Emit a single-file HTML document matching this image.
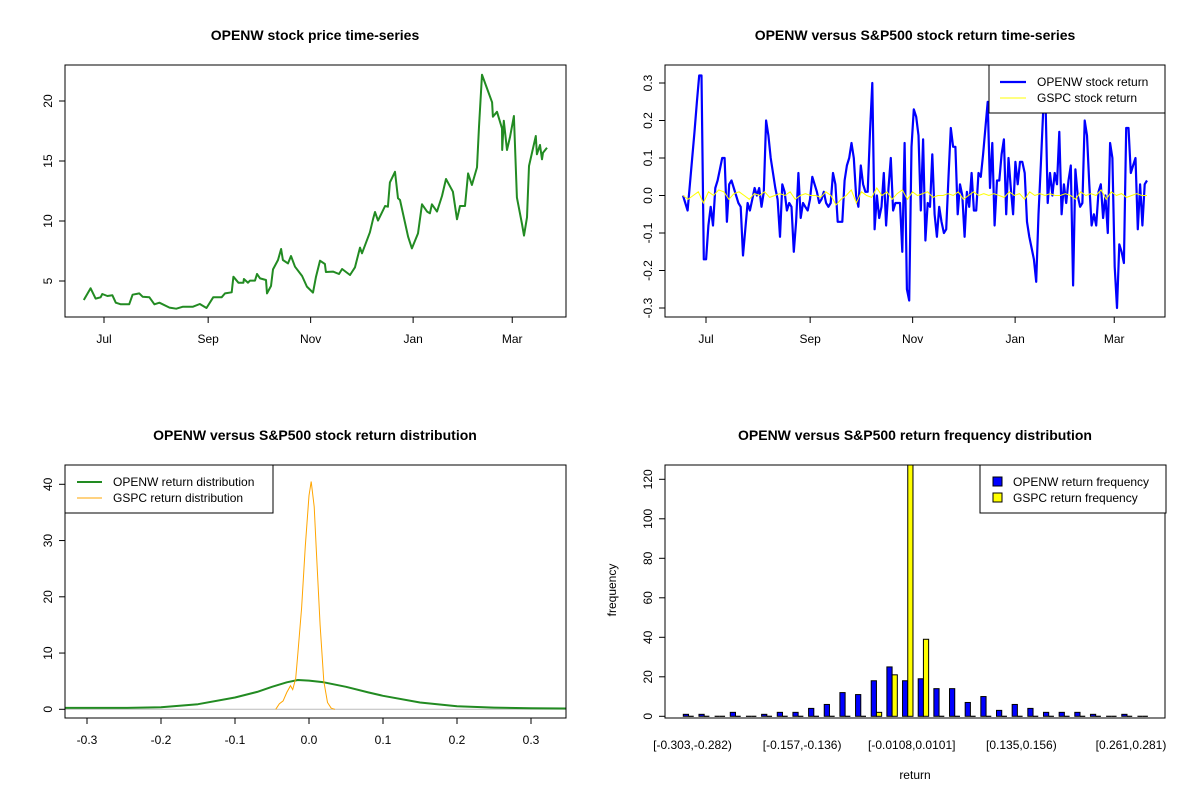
<!DOCTYPE html>
<html><head><meta charset="utf-8"><style>
html,body{margin:0;padding:0;background:#fff;}
svg{display:block;font-family:"Liberation Sans",Arial,sans-serif;}
</style></head><body>
<svg id="s" width="1200" height="800" viewBox="0 0 1200 800">
<rect width="1200" height="800" fill="#fff"/>
</svg>
<script>
// ---- data ----
const priceDays=[-12,-8,-5,-2,-1,2,5,7,10,15,17,21,23,27,30,33,39,43,47,53,57,61,65,70,72,76,77,80,83,83.3,85.7,86.9,89.9,91.1,92.9,96.4,97,99.4,100.6,103.6,105.4,106.5,109.5,111.3,113.7,117.9,120.8,124.4,126.2,128.6,131.5,132.1,136.3,139.9,141.7,146.4,149.4,152.4,153.6,158.3,160.1,161.3,163.1,167.3,169,170.2,173.2,175,176.2,181,183.3,186.9,189.3,192.3,194,195.2,198.2,201.2,203.6,207.7,210.1,211.9,214.9,216.7,219,222,223.2,225,228,231,231.5,233.9,236.9,237,238,239.9,241.7,244,245.8,248.8,250,251.8,253,257,257.7,259.5,260.7,261.3,263.7];
const priceVals=[3.42,4.39,3.53,3.64,3.92,3.75,3.81,3.19,3.06,3.06,3.86,3.97,3.69,3.64,3.06,3.19,2.78,2.69,2.86,2.86,3.08,2.75,3.64,3.64,3.97,4.06,5.36,4.86,4.86,5.17,4.86,5.03,5.03,5.58,5.22,5.08,3.97,4.58,5.97,6.75,7.67,6.75,6.47,7.08,6.19,5.42,4.53,4.03,5.36,6.69,6.42,5.75,5.78,5.58,6.0,5.5,6.14,7.78,7.31,9.06,10.14,10.75,10.03,11.25,11.19,13.22,14.1,11.89,11.75,8.69,7.72,8.97,11.39,10.78,10.64,11.39,10.78,12.08,13.5,12.44,10.14,11.25,11.25,13.97,13.0,14.47,17.86,22.19,21.05,19.89,18.69,19.1,17.72,15.92,18.36,15.92,17.03,18.75,11.97,9.75,8.78,10.31,14.58,17.08,15.56,16.33,15.14,15.69,16.11];
const priceTicks=[5,10,15,20];
const monthLabels=["Jul","Sep","Nov","Jan","Mar"];
const monthDays=[0,62,123,184,243];

const openwRet=[0.00,-0.02,-0.04,0.03,0.10,0.17,0.25,0.32,0.32,-0.17,-0.17,-0.08,-0.03,-0.08,0.02,0.04,0.07,0.10,0.10,-0.07,0.03,0.04,0.02,0.00,-0.02,-0.03,-0.16,-0.09,-0.02,-0.04,-0.01,0.02,0.00,0.02,-0.03,0.01,0.20,0.16,0.10,0.06,0.02,-0.01,-0.11,0.03,0.01,-0.04,-0.02,-0.03,-0.15,-0.07,0.06,-0.06,-0.02,-0.03,-0.04,-0.01,0.05,0.03,0.01,-0.02,-0.01,0.01,-0.02,-0.03,-0.02,0.06,0.03,-0.07,-0.07,-0.07,0.04,0.08,0.10,0.14,0.10,0.00,-0.03,0.08,0.03,0.01,0.01,0.17,0.30,-0.09,0.00,-0.06,-0.03,0.06,-0.08,0.02,0.10,-0.04,-0.02,-0.02,-0.02,-0.15,0.14,-0.25,-0.28,0.13,0.23,0.21,0.16,-0.04,0.15,-0.12,-0.02,-0.03,0.11,-0.05,-0.11,-0.03,-0.07,-0.10,-0.09,0.05,0.18,0.13,0.13,-0.05,0.03,0.00,-0.11,0.01,-0.03,0.06,-0.04,-0.04,0.06,0.05,0.11,0.18,0.25,0.02,0.14,-0.08,0.04,0.04,0.11,0.15,-0.05,0.10,0.02,-0.05,0.09,0.03,0.09,0.09,0.06,-0.07,-0.11,-0.14,-0.17,-0.23,-0.05,0.08,0.22,0.27,-0.02,0.06,0.00,0.06,0.03,0.17,-0.05,0.03,-0.02,0.04,0.08,-0.24,0.07,0.00,-0.03,-0.02,0.20,0.16,0.03,-0.08,-0.05,-0.08,0.01,0.03,-0.06,0.00,-0.10,0.14,0.10,-0.19,-0.30,-0.13,-0.15,-0.18,0.18,0.18,0.06,0.08,0.10,-0.09,0.03,-0.08,0.03,0.04];
const gspcRet=[0.00,-0.01,0.00,0.01,-0.02,0.01,0.00,0.015,0.01,-0.01,0.005,0.01,0.00,-0.01,0.005,0.00,0.01,-0.005,0.00,0.005,0.00,0.01,-0.01,0.00,0.005,0.00,0.00,-0.005,0.01,0.00,-0.025,-0.01,0.00,0.015,-0.02,0.01,0.00,-0.005,0.02,0.00,0.01,-0.01,0.005,0.015,-0.01,0.01,0.00,0.005,0.01,-0.005,0.00,0.00,0.005,0.00,0.01,-0.01,0.00,0.01,0.00,0.005,0.00,0.005,0.00,-0.005,0.01,0.00,0.005,-0.01,0.01,0.00,0.005,0.00,0.005,0.00,0.00,0.005,0.00,-0.01,0.01,0.00,0.005,0.00,0.015,-0.01,0.01,0.00,0.005,-0.005,0.00,0.005,0.00,0.00];
const retTicks=[-0.3,-0.2,-0.1,0.0,0.1,0.2,0.3];

const densGX=[-0.33,-0.3,-0.25,-0.2,-0.15,-0.1,-0.07,-0.05,-0.03,-0.015,0,0.02,0.05,0.08,0.1,0.15,0.2,0.25,0.3,0.35];
const densGY=[0.25,0.25,0.25,0.35,0.9,2.1,3.1,4.0,4.8,5.2,5.1,4.8,4.0,3.0,2.4,1.2,0.55,0.3,0.2,0.15];
const densOX=[-0.045,-0.04,-0.035,-0.03,-0.025,-0.022,-0.018,-0.015,-0.01,-0.005,0,0.003,0.007,0.01,0.015,0.02,0.025,0.03,0.035];
const densOY=[0,1.0,1.5,3.0,4.2,3.5,5.5,10,18,29,38,40.5,36,28,15,5,1.2,0.2,0];
const densXTicks=[-0.3,-0.2,-0.1,0.0,0.1,0.2,0.3];
const densYTicks=[0,10,20,30,40];

const binLabels=["[-0.303,-0.282)","[-0.157,-0.136)","[-0.0108,0.0101]","[0.135,0.156)","[0.261,0.281)"];
const binLabelIdx=[0,7,14,21,28];
const openwFreq=[1,1,0,2,0,1,2,2,4,6,12,11,18,25,18,19,14,14,7,10,3,6,4,2,2,2,1,0,1,0];
const gspcFreq=[0,0,0,0,0,0,0,0,0,0,0,0,2,21,130,39,0,0,0,0,0,0,0,0,0,0,0,0,0,0];
const freqTicks=[0,20,40,60,80,100,120];

// ---- helpers ----
const S=document.getElementById('s');const NS='http://www.w3.org/2000/svg';
function mk(tag,attrs,parent){const e=document.createElementNS(NS,tag);for(const k in attrs)e.setAttribute(k,attrs[k]);(parent||S).appendChild(e);return e;}
function txt(x,y,t,opt,parent){const e=mk('text',Object.assign({x:x,y:y,'font-size':12,fill:'#000','text-anchor':'middle'},opt||{}),parent);e.textContent=t;return e;}
function frame(x0,y0,x1,y1,name){const r=mk('rect',{x:x0,y:y0,width:x1-x0,height:y1-y0,fill:'none',stroke:'#000','stroke-width':1});

}
function title(x,y,t,name){const e=txt(x,y,t,{'font-size':14,'font-weight':'bold'});

}
function ytick(x,y,label,parent){mk('line',{x1:x,x2:x-6,y1:y,y2:y,stroke:'#000'},parent);txt(x-17,y,label,{transform:`rotate(-90 ${x-17} ${y})`,'dominant-baseline':'auto'},parent).setAttribute('dy','4');}
function xtick(x,y,label,parent){mk('line',{x1:x,x2:x,y1:y,y2:y+6,stroke:'#000'},parent);txt(x,y+26,label,{},parent);}
function fmt(v){return v===0?'0.0':v.toFixed(1);}

// ---- panel 1: price ----
(function(){
const g=mk('g',{});
const X=d=>104+1.68*d, Y=v=>341-12*v;
title(315,40,'OPENW stock price time-series','price-chart-title');
let d='';priceDays.forEach((t,i)=>{d+=(i?'L':'M')+X(t).toFixed(1)+' '+Y(priceVals[i]).toFixed(1);});
const p=mk('path',{d:d,fill:'none',stroke:'#228B22','stroke-width':2,'stroke-linejoin':'round'},g);


frame(65,65,566,317,'price-plot-frame');
priceTicks.forEach(v=>ytick(65,Y(v),String(v),g));
monthDays.forEach((t,i)=>xtick(X(t),317,monthLabels[i],g));
})();

// ---- panel 2: returns ----
(function(){
const g=mk('g',{});
const Y=v=>195.5-375*v;
const XO=i=>683+i*(1147-683)/(openwRet.length-1);
const XG=i=>683+i*(1147-683)/(gspcRet.length-1);
title(915,40,'OPENW versus S&P500 stock return time-series','return-chart-title');
let d='';openwRet.forEach((v,i)=>{d+=(i?'L':'M')+XO(i).toFixed(1)+' '+Y(v).toFixed(1);});
const p=mk('path',{d:d,fill:'none',stroke:'#0000FF','stroke-width':2.2,'stroke-linejoin':'round'},g);


let d2='';gspcRet.forEach((v,i)=>{d2+=(i?'L':'M')+XG(i).toFixed(1)+' '+Y(v).toFixed(1);});
const p2=mk('path',{d:d2,fill:'none',stroke:'#FFFF00','stroke-width':1},g);


frame(665,65,1165,317,'return-plot-frame');
retTicks.forEach(v=>ytick(665,Y(v),fmt(v),g));
monthDays.forEach((t,i)=>xtick(706+1.68*t,317,monthLabels[i],g));
const lg=mk('g',{});
mk('rect',{x:989,y:65,width:176,height:48,fill:'#fff',stroke:'#000'},lg);
mk('line',{x1:1000,x2:1026,y1:82,y2:82,stroke:'#0000FF','stroke-width':2.2},lg);
mk('line',{x1:1000,x2:1026,y1:98,y2:98,stroke:'#FFFF00','stroke-width':1},lg);
txt(1037,86,'OPENW stock return',{'text-anchor':'start'},lg);
txt(1037,102,'GSPC stock return',{'text-anchor':'start'},lg);
})();

// ---- panel 3: density ----
(function(){
const g=mk('g',{});
const X=v=>309+740*v, Y=v=>709.3-5.625*v;
title(315,440,'OPENW versus S&P500 stock return distribution','density-chart-title');
mk('line',{x1:65,x2:566,y1:Y(0),y2:Y(0),stroke:'#bbb'},g);
function smooth(xs,ys){let d='';xs.forEach((x,i)=>{d+=(i?'L':'M')+X(x).toFixed(1)+' '+Y(ys[i]).toFixed(1);});return d;}
const cg=mk('g',{'clip-path':'url(#c3)'},g);
const cp=mk('clipPath',{id:'c3'});mk('rect',{x:65,y:465,width:501,height:253},cp);
const p=mk('path',{d:smooth(densGX,densGY),fill:'none',stroke:'#228B22','stroke-width':2,'stroke-linejoin':'round'},cg);


const p2=mk('path',{d:smooth(densOX,densOY),fill:'none',stroke:'#FFA500','stroke-width':1},cg);


frame(65,465,566,718,'density-plot-frame');
densYTicks.forEach(v=>ytick(65,Y(v),String(v),g));
densXTicks.forEach(v=>xtick(X(v),718,fmt(v),g));
const lg=mk('g',{});
mk('rect',{x:65,y:465,width:208,height:48,fill:'#fff',stroke:'#000'},lg);
mk('line',{x1:77,x2:102,y1:482,y2:482,stroke:'#228B22','stroke-width':2},lg);
mk('line',{x1:77,x2:102,y1:498,y2:498,stroke:'#FFA500','stroke-width':1},lg);
txt(113,486,'OPENW return distribution',{'text-anchor':'start'},lg);
txt(113,502,'GSPC return distribution',{'text-anchor':'start'},lg);
})();

// ---- panel 4: histogram ----
(function(){
const g=mk('g',{});
const Y=v=>716.3-1.975*v, gw=15.66, bw=5.22, x0=683.3;
title(915,440,'OPENW versus S&P500 return frequency distribution','frequency-chart-title');
const cp=mk('clipPath',{id:'c4'});mk('rect',{x:665,y:465,width:500,height:253},cp);
const cg=mk('g',{'clip-path':'url(#c4)'},g);
function bar(x,v,fill,name){
  if(v===0){const l=mk('line',{x1:x,x2:x+bw,y1:Y(0),y2:Y(0),stroke:'#000','stroke-width':1.2},cg);
    
    return;}
  const r=mk('rect',{x:x,y:Y(v),width:bw,height:Y(0)-Y(v),fill:fill,stroke:'#000','stroke-width':1},cg);
  
  
}
openwFreq.forEach((v,i)=>bar(x0+i*gw,v,'#0000FF','openw-bar'));
gspcFreq.forEach((v,i)=>bar(x0+i*gw+bw,v,'#FFFF00','gspc-bar'));
frame(665,465,1165,718,'frequency-plot-frame');
freqTicks.forEach(v=>ytick(665,Y(v),String(v),g));
binLabelIdx.forEach((k,i)=>txt(x0+k*gw+bw+4,749,binLabels[i],{},g));
const yl=txt(616,590,'frequency',{transform:'rotate(-90 616 590)','font-size':12},g);

const xl=txt(915,779,'return',{'font-size':12},g);

const lg=mk('g',{});
mk('rect',{x:980,y:465,width:186,height:48,fill:'#fff',stroke:'#000'},lg);
mk('rect',{x:993,y:477,width:9,height:9,fill:'#0000FF',stroke:'#000'},lg);
mk('rect',{x:993,y:493,width:9,height:9,fill:'#FFFF00',stroke:'#000'},lg);
txt(1013,486,'OPENW return frequency',{'text-anchor':'start'},lg);
txt(1013,502,'GSPC return frequency',{'text-anchor':'start'},lg);
})();
</script>
</body></html>
